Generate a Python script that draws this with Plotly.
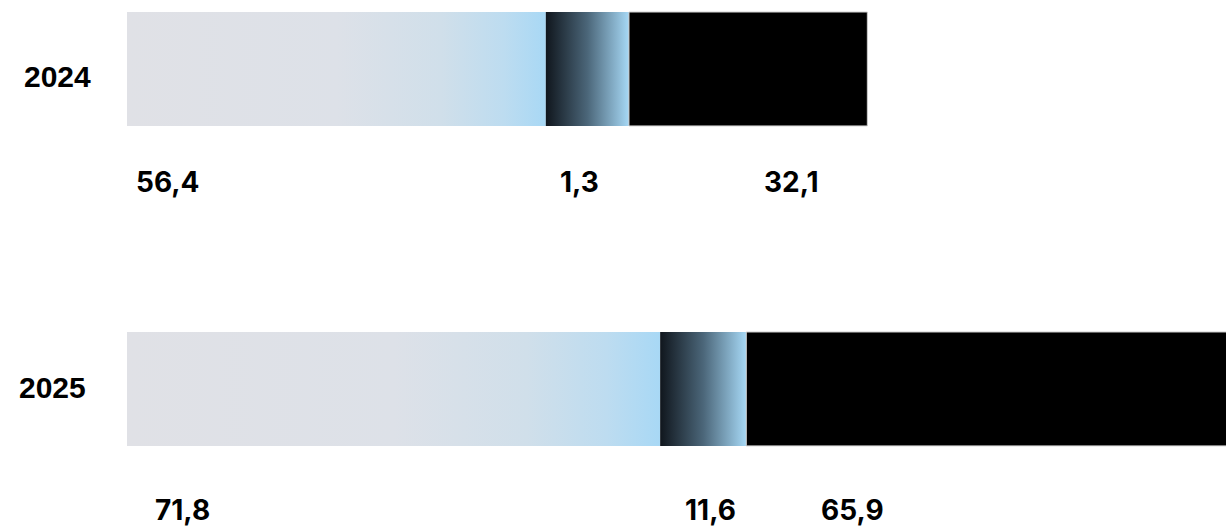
import plotly.graph_objects as go

# ---- data ----
years = ["2024", "2025"]
segment_light = [56.4, 71.8]
segment_mid = [1.3, 11.6]
segment_dark = [32.1, 65.9]

# ---- style / layout constants ----
MIN_SEG = 11.2          # minimum drawn width of a segment (data units)
HALF_H = 0.178          # half bar thickness (y units)
X_MAX = 148.0
Y_RANGE = [1.444, -0.2156]

grad_light = [[0, "#e0e1e6"], [0.5, "#dde1e8"], [0.75, "#d0dfea"], [0.9, "#bddcf0"], [1, "#a8d8f5"]]
grad_mid = [[0, "#10161d"], [0.5, "#4b6679"], [1, "#a6d8f5"]]

cat_label_pos = [(-0.0955, 0.022), (-0.1001, 0.994)]           # (paper x, y)
value_label_x = [[0.95, 58.0, 85.5], [3.5, 74.9, 93.2]]           # data x (left edge)
value_label_y = [0.353, 1.378]

fig = go.Figure()

for i, yr in enumerate(years):
    vals = [segment_light[i], segment_mid[i], segment_dark[i]]
    styles = [dict(fillgradient=dict(type="horizontal", colorscale=grad_light)),
              dict(fillgradient=dict(type="horizontal", colorscale=grad_mid)),
              dict(fillcolor="#000000")]
    cum = 0.0
    for k, (v, st) in enumerate(zip(vals, styles)):
        w = max(v, MIN_SEG)
        x0, x1 = cum, cum + w
        y0, y1 = i - HALF_H, i + HALF_H
        line = dict(width=1, color="#cfcfcf") if k == 2 else dict(width=0)
        fig.add_trace(go.Scatter(
            x=[x0, x1, x1, x0, x0], y=[y0, y0, y1, y1, y0],
            mode="lines", fill="toself", line=line,
            hoverinfo="skip", showlegend=False, **st))
        cum = x1

    # category label
    px, py = cat_label_pos[i]
    fig.add_annotation(text=yr, xref="paper", yref="y", x=px, y=py,
                       xanchor="left", yanchor="middle", showarrow=False,
                       font=dict(family="Liberation Sans", size=30, color="#000000", weight=700))
    # value labels
    for k, v in enumerate(vals):
        txt = f"{v:.1f}".replace(".", ",")
        fig.add_annotation(text=txt, xref="x", yref="y",
                           x=value_label_x[i][k], y=value_label_y[i],
                           xanchor="left", yanchor="middle", showarrow=False,
                           font=dict(family="Inter", size=28, color="#000000", weight=700))

fig.update_layout(
    width=1226, height=531,
    margin=dict(l=127, r=0, t=0, b=0, pad=0),
    plot_bgcolor="#ffffff", paper_bgcolor="#ffffff",
    xaxis=dict(range=[0, X_MAX], visible=False, fixedrange=True),
    yaxis=dict(range=Y_RANGE, visible=False, fixedrange=True),
    showlegend=False,
    hovermode=False,
)

fig.write_html(
    "out.html",
    config={"displayModeBar": False, "staticPlot": True},
    post_script="document.body.style.margin='0';document.body.style.overflow='hidden';",
)
